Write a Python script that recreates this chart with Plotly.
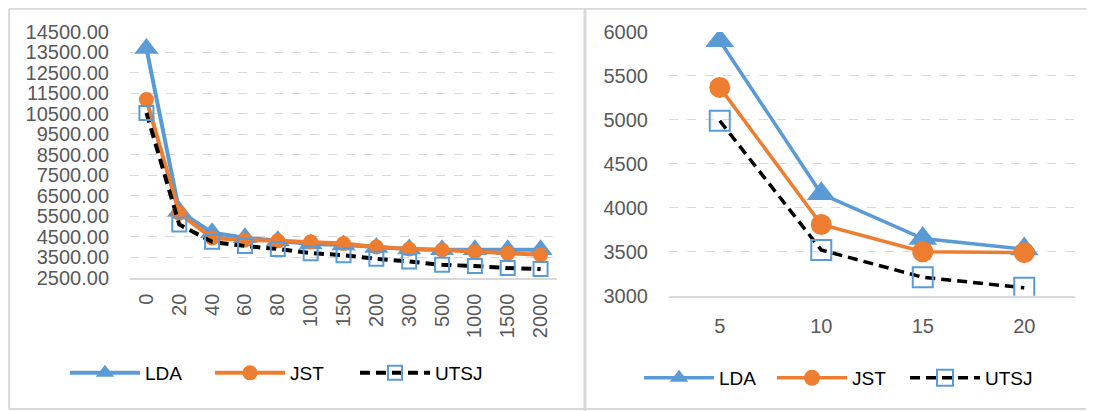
import plotly.graph_objects as go

# ---- data (left panel) ----
left_cats = ["0", "20", "40", "60", "80", "100", "150", "200", "300", "500", "1000", "1500", "2000"]
left_lda = [13700, 5750, 4700, 4450, 4300, 4150, 4100, 3980, 3900, 3870, 3860, 3860, 3860]
left_jst = [11200, 5650, 4440, 4340, 4300, 4250, 4170, 4000, 3900, 3850, 3770, 3690, 3620]
left_utsj = [10550, 5100, 4250, 4050, 3900, 3700, 3600, 3420, 3290, 3130, 3070, 2970, 2920]

# ---- data (right panel) ----
right_cats = ["5", "10", "15", "20"]
right_lda = [5900, 4160, 3650, 3530]
right_jst = [5370, 3810, 3500, 3490]
right_utsj = [4990, 3520, 3210, 3090]

series_names = ["LDA", "JST", "UTSJ"]

BLUE = "#5B9BD5"
ORANGE = "#ED7D31"
GRID = "#D9D9D9"
TICK = "#595959"
FONT = "Liberation Sans"
W, H = 1094, 411
OFF = 8  # page body margin


def px_x(p):
    return (p - OFF) / W


def px_y(p):
    return 1 - (p - OFF) / H


fig = go.Figure()

# left panel traces
fig.add_trace(go.Scatter(x=left_cats, y=left_lda, name=series_names[0], mode="lines+markers",
                         line=dict(color=BLUE, width=4),
                         marker=dict(symbol="triangle-up", size=21, color=BLUE),
                         xaxis="x", yaxis="y", legend="legend"))
fig.add_trace(go.Scatter(x=left_cats, y=left_jst, name=series_names[1], mode="lines+markers",
                         line=dict(color=ORANGE, width=4),
                         marker=dict(symbol="circle", size=15, color=ORANGE),
                         xaxis="x", yaxis="y", legend="legend"))
fig.add_trace(go.Scatter(x=left_cats, y=left_utsj, name=series_names[2], mode="lines+markers",
                         line=dict(color="black", width=4, dash="10px,6px"),
                         marker=dict(symbol="square-open", size=14, color=BLUE, line=dict(color=BLUE, width=2)),
                         xaxis="x", yaxis="y", legend="legend"))

# right panel traces
fig.add_trace(go.Scatter(x=right_cats, y=right_lda, name=series_names[0], mode="lines+markers",
                         line=dict(color=BLUE, width=3.5),
                         marker=dict(symbol="triangle-up", size=25, color=BLUE),
                         xaxis="x2", yaxis="y2", legend="legend2"))
fig.add_trace(go.Scatter(x=right_cats, y=right_jst, name=series_names[1], mode="lines+markers",
                         line=dict(color=ORANGE, width=3.5),
                         marker=dict(symbol="circle", size=21, color=ORANGE),
                         xaxis="x2", yaxis="y2", legend="legend2"))
fig.add_trace(go.Scatter(x=right_cats, y=right_utsj, name=series_names[2], mode="lines+markers",
                         line=dict(color="black", width=3.5, dash="10px,6px"),
                         marker=dict(symbol="square-open", size=20, color=BLUE, line=dict(color=BLUE, width=2)),
                         xaxis="x2", yaxis="y2", legend="legend2"))

axis_common = dict(showgrid=False, zeroline=False, ticks="", showline=True,
                   linecolor=GRID, linewidth=2, tickfont=dict(family=FONT, size=20, color=TICK),
                   type="category", fixedrange=True, automargin=False)
yaxis_common = dict(showgrid=True, gridcolor=GRID, gridwidth=1, griddash="dash", zeroline=False,
                    showline=False, ticks="", tickfont=dict(family=FONT, size=20, color=TICK),
                    ticklabelstandoff=20, fixedrange=True, automargin=False)

legend_common = dict(orientation="h", xanchor="left", yanchor="middle", entrywidthmode="pixels",
                     font=dict(family=FONT, size=19, color="black"), bgcolor="rgba(0,0,0,0)",
                     itemclick=False, itemwidth=70, tracegroupgap=0)

fig.update_layout(
    width=W, height=H,
    margin=dict(l=0, r=0, t=0, b=0, pad=0, autoexpand=False),
    paper_bgcolor="white", plot_bgcolor="white",
    font=dict(family=FONT, size=19, color="black"),
    xaxis=dict(axis_common, domain=[px_x(130), px_x(557)], range=[-0.5, 12.5],
               tickangle=-90, ticklabelstandoff=6, anchor="y"),
    yaxis=dict(yaxis_common, domain=[px_y(277.7), px_y(32)], range=[2500, 14500],
               tick0=2500, dtick=1000, tickformat=".2f", anchor="x"),
    xaxis2=dict(axis_common, domain=[px_x(669), px_x(1075)], range=[-0.5, 3.5],
                tickangle=0, ticklabelstandoff=11, anchor="y2"),
    yaxis2=dict(yaxis_common, domain=[px_y(295.7), px_y(32)], range=[3000, 6000],
                tick0=3000, dtick=500, anchor="x2"),
    legend=dict(legend_common, x=px_x(65), y=px_y(373), entrywidth=60),
    legend2=dict(legend_common, x=px_x(639), y=px_y(378), entrywidth=48),
    showlegend=True,
)

# panel frame (decorative borders)
frame = dict(type="line", xref="paper", yref="paper", line=dict(color=GRID, width=2))
fig.add_shape(frame, x0=0.001, x1=1, y0=0.998, y1=0.998)
fig.add_shape(frame, x0=0.001, x1=0.001, y0=0.998, y1=px_y(409))
fig.add_shape(frame, x0=0.001, x1=1, y0=px_y(409), y1=px_y(409))
fig.add_shape(dict(frame, line=dict(color=GRID, width=3)), x0=px_x(585), x1=px_x(585), y0=1, y1=0)

fig.write_html("out.html")
